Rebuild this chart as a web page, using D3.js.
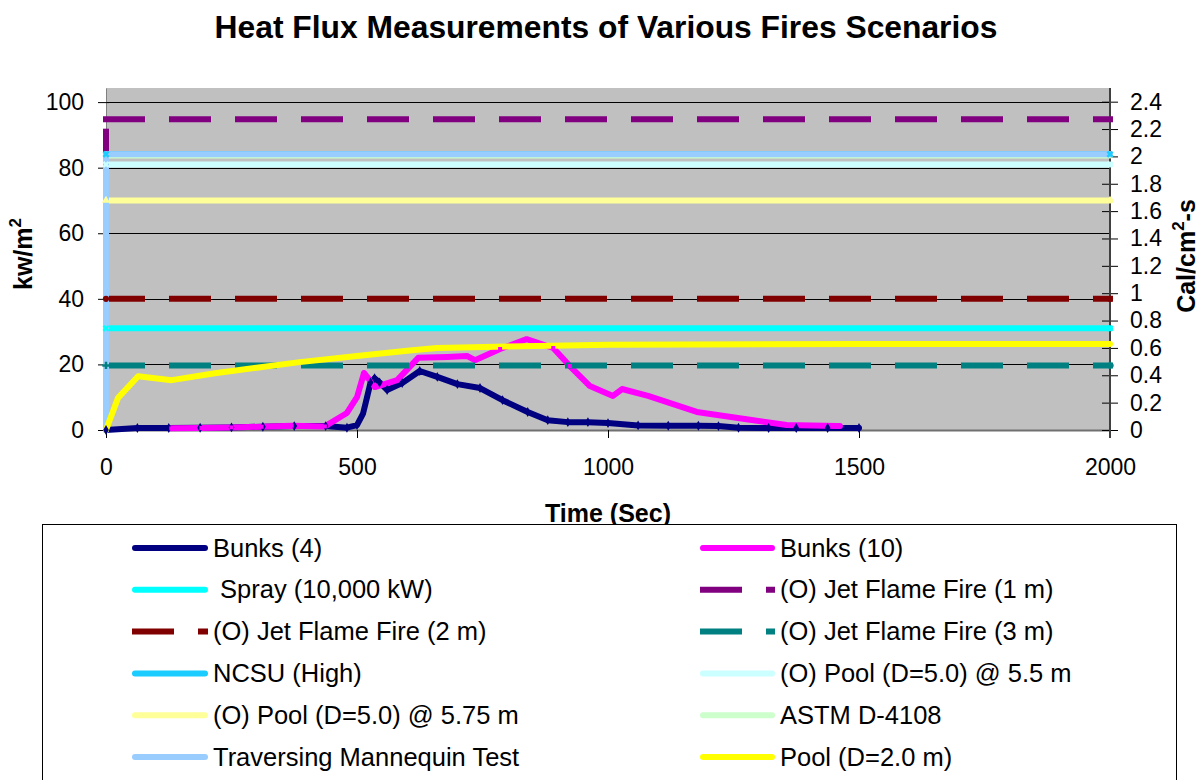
<!DOCTYPE html>
<html>
<head>
<meta charset="utf-8">
<script src="https://cdn.jsdelivr.net/npm/d3@7"></script>
<style>
  html, body { margin: 0; padding: 0; background: #fff; }
  svg { display: block; font-family: "Liberation Sans", Arial, sans-serif; }
</style>
</head>
<body>
<svg id="chart"></svg>
<script>
// DATA
const timeTicks = [0, 500, 1000, 1500, 2000];
const fluxTicks = [0, 20, 40, 60, 80, 100];
const calTicks = [0, 0.2, 0.4, 0.6, 0.8, 1, 1.2, 1.4, 1.6, 1.8, 2, 2.2, 2.4];

const bunks4Time = [0, 62.5, 125, 187.5, 250, 312.5, 375, 437.5, 480, 500, 512, 520, 527, 535, 545, 560, 590, 625, 660, 700, 745, 790, 840, 880, 920, 960, 1000, 1060, 1120, 1180, 1220, 1260, 1320, 1375, 1437.5, 1500];
const bunks4Flux = [0, 0.6, 0.6, 0.7, 0.8, 1.0, 1.2, 1.2, 0.7, 1.5, 5, 10, 14.5, 15.8, 14.5, 12.2, 14.3, 18, 16.2, 14, 12.8, 9.1, 5.5, 3, 2.4, 2.4, 2.1, 1.4, 1.3, 1.3, 1.2, 0.7, 0.6, 0.6, 0.6, 0.6];

const bunks10Time = [130, 190, 250, 310, 370, 436, 480, 500, 514, 536, 580, 622, 680, 719, 735, 785, 838, 891, 924, 964, 1010, 1028, 1080, 1177, 1276, 1356, 1456, 1462];
const bunks10Flux = [0.5, 0.6, 0.8, 1.0, 1.3, 1.1, 5.2, 10, 17.4, 13.1, 15.2, 22, 22.3, 22.6, 21.3, 24.7, 27.7, 25, 19.5, 13.4, 10.4, 12.5, 10.4, 5.5, 3.3, 1.5, 1.2, 1.2];

const sprayTime = [0, 2000];
const sprayFlux = [31, 31];
const jet1mTime = [0, 0, 2000];
const jet1mFlux = [80, 94.8, 94.8];
const jet2mTime = [0, 2000];
const jet2mFlux = [40, 40];
const jet3mTime = [0, 2000];
const jet3mFlux = [19.7, 19.7];
const ncsuTime = [0, 2000];
const ncsuFlux = [84.1, 84.1];
const pool55Time = [0, 2000];
const pool55Flux = [81, 81];
const pool575Time = [0, 2000];
const pool575Flux = [70, 70];
const astmTime = [0, 2000];
const astmFlux = [83.68, 83.68];
const mannequinTime = [0, 0, 2000];
const mannequinFlux = [0, 84.1, 84.1];
const pool2Time = [0, 24, 64, 131, 217, 300, 386, 500, 600, 659, 800, 1000, 1500, 2000];
const pool2Flux = [0, 9.8, 16.4, 15.2, 17.3, 19.0, 20.7, 22.6, 24.2, 25.0, 25.5, 26.0, 26.2, 26.2];

const seriesNames = [
  "Bunks (4)", "Bunks (10)", " Spray (10,000 kW)", "(O) Jet Flame Fire (1 m)",
  "(O) Jet Flame Fire (2 m)", "(O) Jet Flame Fire (3 m)", "NCSU (High)",
  "(O) Pool (D=5.0) @ 5.5 m", "(O) Pool (D=5.0) @ 5.75 m", "ASTM D-4108",
  "Traversing Mannequin Test", "Pool (D=2.0 m)"
];

document.addEventListener("DOMContentLoaded", function () {
  const width = 1204;
  const height = 780;
  const plot = { left: 106, right: 1110, top: 88, bottom: 430 };

  const series = [
    [bunks4Time, bunks4Flux], [bunks10Time, bunks10Flux], [sprayTime, sprayFlux],
    [jet1mTime, jet1mFlux], [jet2mTime, jet2mFlux], [jet3mTime, jet3mFlux],
    [ncsuTime, ncsuFlux], [pool55Time, pool55Flux], [pool575Time, pool575Flux],
    [astmTime, astmFlux], [mannequinTime, mannequinFlux], [pool2Time, pool2Flux]
  ].map((d, i) => ({ name: seriesNames[i], points: d3.zip(d[0], d[1]) }));

  // STYLES (color, dashed, marker)
  const styles = [
    { color: "#000080", dash: false, marker: d3.symbolDiamond, size: 28 },
    { color: "#FF00FF", dash: false, marker: d3.symbolSquare, size: 16 },
    { color: "#00FFFF", dash: false, marker: "x", size: 30 },
    { color: "#800080", dash: true, marker: null },
    { color: "#800000", dash: true, marker: d3.symbolCircle, size: 30 },
    { color: "#008080", dash: true, marker: d3.symbolCross, size: 30 },
    { color: "#1ACCFF", dash: false, marker: "x", size: 30 },
    { color: "#CCFFFF", dash: false, marker: "x", size: 30 },
    { color: "#FFFF99", dash: false, marker: d3.symbolTriangle, size: 30 },
    { color: "#CCFFCC", dash: false, marker: null },
    { color: "#99CCFF", dash: false, marker: null },
    { color: "#FFFF00", dash: false, marker: null }
  ];

  //  SVG
  const svg = d3.select("#chart").attr("width", width).attr("height", height);

  const x = d3.scaleLinear().domain([0, 2000]).range([plot.left, plot.right]);
  const y = d3.scaleLinear().domain([0, 104.3]).range([plot.bottom, plot.top]);
  const yCal = d3.scaleLinear().domain([0, 2.5]).range([plot.bottom, plot.top]);

  // PLOT AREA
  svg.append("rect")
    .attr("x", plot.left).attr("y", plot.top)
    .attr("width", plot.right - plot.left).attr("height", plot.bottom - plot.top)
    .attr("fill", "#C0C0C0");

  svg.append("g")
    .selectAll("line")
    .data(fluxTicks.filter((d) => d > 0))
    .enter()
    .append("line")
    .attr("x1", plot.left).attr("x2", plot.right)
    .attr("y1", (d) => Math.round(y(d)) + 0.5).attr("y2", (d) => Math.round(y(d)) + 0.5)
    .attr("stroke", "#000").attr("stroke-width", 1);

  // AXES
  const leftAxis = svg.append("g")
    .attr("transform", `translate(${plot.left},0)`)
    .call(d3.axisLeft(y).tickValues(fluxTicks).tickSizeInner(8).tickSizeOuter(0).tickPadding(14));
  leftAxis.select(".domain").attr("stroke", "#808080");
  leftAxis.selectAll(".tick line").attr("x2", -8).attr("x1", 3).attr("stroke", "#000");

  const bottomAxis = svg.append("g")
    .attr("transform", `translate(0,${plot.bottom})`)
    .call(d3.axisBottom(x).tickValues(timeTicks).tickSizeInner(8).tickSizeOuter(0).tickPadding(21)
      .tickFormat(d3.format("d")));
  bottomAxis.select(".domain").attr("stroke", "#707070").attr("stroke-width", 2);
  bottomAxis.selectAll(".tick line").attr("stroke", "#000");

  const rightAxis = svg.append("g")
    .attr("transform", `translate(${plot.right},0)`)
    .call(d3.axisRight(yCal).tickValues(calTicks).tickSizeInner(8).tickSizeOuter(0).tickPadding(12)
      .tickFormat((d) => String(+d.toFixed(1))));
  rightAxis.select(".domain").remove();
  rightAxis.selectAll(".tick line").attr("x1", -8).attr("stroke", "#000");
  rightAxis.append("line")
    .attr("x1", 0).attr("x2", 0).attr("y1", plot.top).attr("y2", plot.bottom + 8)
    .attr("stroke", "#404040").attr("stroke-width", 2);

  svg.selectAll(".tick text")
    .attr("font-size", 23).attr("fill", "#000")
    .attr("font-family", "Liberation Sans, Arial, sans-serif");

  // SERIES
  const line = d3.line().x((d) => x(d[0])).y((d) => y(d[1]));
  const lines = svg.append("g").attr("fill", "none").attr("stroke-width", 6);

  series.forEach((s, i) => {
    const st = styles[i];
    if (st.dash) {
      d3.pairs(s.points).forEach(([a, b]) => {
        lines.append("line")
          .attr("x1", x(a[0])).attr("y1", y(a[1]))
          .attr("x2", x(b[0])).attr("y2", y(b[1]))
          .attr("stroke", st.color)
          .attr("stroke-linecap", "square")
          .attr("stroke-dasharray", "36 30");
      });
    } else {
      lines.append("path")
        .attr("d", line(s.points))
        .attr("stroke", st.color)
        .attr("stroke-linecap", "round")
        .attr("stroke-linejoin", "round");
    }
  });

  // MARKERS
  const markers = svg.append("g");
  series.forEach((s, i) => {
    const st = styles[i];
    if (!st.marker) return;
    const isX = st.marker === "x";
    const sym = d3.symbol().type(isX ? d3.symbolCross : st.marker).size(st.size);
    markers.selectAll(null)
      .data(s.points)
      .enter()
      .append("path")
      .attr("d", sym)
      .attr("transform", (d) => `translate(${x(d[0])},${y(d[1])})${isX ? " rotate(45)" : ""}`)
      .attr("fill", st.color);
  });

  // TITLES
  svg.append("text")
    .attr("x", 606).attr("y", 38)
    .attr("text-anchor", "middle")
    .attr("font-size", 31.8).attr("font-weight", "bold")
    .text("Heat Flux Measurements of Various Fires Scenarios");

  svg.append("text")
    .attr("x", 608).attr("y", 522)
    .attr("text-anchor", "middle")
    .attr("font-size", 25).attr("font-weight", "bold")
    .text("Time (Sec)");

  const yTitle = svg.append("text")
    .attr("transform", "translate(32,254) rotate(-90)")
    .attr("text-anchor", "middle")
    .attr("font-size", 25).attr("font-weight", "bold");
  yTitle.append("tspan").text("kw/m");
  yTitle.append("tspan").attr("dy", -11).attr("font-size", 17).text("2");

  const calTitle = svg.append("text")
    .attr("transform", "translate(1195,256) rotate(-90)")
    .attr("text-anchor", "middle")
    .attr("font-size", 25).attr("font-weight", "bold");
  calTitle.append("tspan").text("Cal/cm");
  calTitle.append("tspan").attr("dy", -11).attr("font-size", 17).text("2");
  calTitle.append("tspan").attr("dy", 11).text("-s");

  // LEGENDA
  const legend = svg.append("g").attr("id", "legend");
  legend.append("rect")
    .attr("x", 42.5).attr("y", 524.5)
    .attr("width", 1134).attr("height", 300)
    .attr("fill", "#fff").attr("stroke", "#000").attr("stroke-width", 1);

  const cols = [
    { x0: 132, x1: 208, tx: 213 },
    { x0: 700, x1: 775, tx: 780 }
  ];

  const items = legend.selectAll("g.item")
    .data(series.map((s, i) => ({ name: s.name, st: styles[i], i })))
    .enter()
    .append("g")
    .attr("class", "item")
    .attr("transform", (d) => `translate(0,${548 + Math.floor(d.i / 2) * 41.8})`);

  items.append("line")
    .attr("x1", (d) => cols[d.i % 2].x0 + 3)
    .attr("x2", (d) => cols[d.i % 2].x1 - 3)
    .attr("stroke", (d) => d.st.color)
    .attr("stroke-width", 6)
    .attr("stroke-linecap", (d) => (d.st.dash ? "square" : "round"))
    .attr("stroke-dasharray", (d) => (d.st.dash ? "36 30" : null));

  items.append("text")
    .attr("x", (d) => cols[d.i % 2].tx)
    .attr("y", 8.5)
    .attr("font-size", 25.5)
    .attr("xml:space", "preserve")
    .style("white-space", "pre")
    .text((d) => d.name);
});
</script>
</body>
</html>
